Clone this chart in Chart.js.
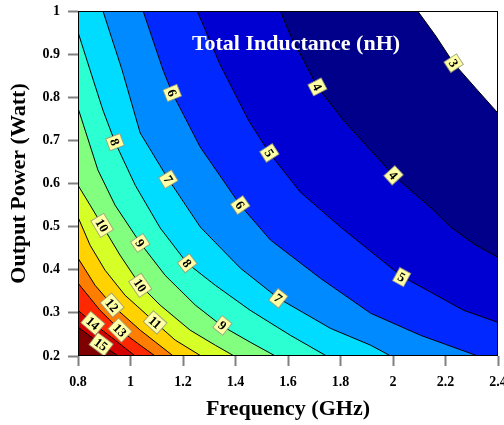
<!DOCTYPE html>
<html>
<head>
<meta charset="utf-8">
<script src="https://cdn.jsdelivr.net/npm/chart.js@4/dist/chart.umd.min.js"></script>
<style>
  body { margin: 0; background: #fff; }
  canvas { display: block; }
</style>
</head>
<body>
<canvas id="chart" width="504" height="425"></canvas>
<script>
// Total inductance (nH) vs frequency and output power, filled contours

const levels = [3, 4, 5, 6, 7, 8, 9, 10, 11, 12, 13, 14, 15];
// colour of the band that sits above each level
const bandColors = ['#00008a', '#0000d2', '#0028ff', '#008aff', '#00dcff', '#2cffd2', '#82ff7e',
                    '#d6ff28', '#ffd200', '#ff7e00', '#ff2800', '#d20000', '#7e0000'];

// contour lines: frequency (GHz) and output power (W) along each level
const contourX = [
  [2.094, 2.163, 2.231, 2.315, 2.40],
  [1.571, 1.609, 1.659, 1.712, 1.811, 1.915, 2.002, 2.155, 2.220, 2.315, 2.40],
  [1.254, 1.342, 1.449, 1.529, 1.647, 1.800, 2.033, 2.269, 2.40],
  [1.048, 1.124, 1.159, 1.266, 1.418, 1.533, 1.724, 1.915, 2.105, 2.323],
  [0.895, 0.968, 1.037, 1.144, 1.266, 1.418, 1.563, 1.762, 1.915, 1.991],
  [0.800, 0.846, 0.895, 0.941, 1.018, 1.113, 1.216, 1.323, 1.456, 1.609, 1.747],
  [0.800, 0.876, 0.941, 1.037, 1.132, 1.247, 1.350, 1.456, 1.552],
  [0.800, 0.846, 0.892, 0.960, 1.037, 1.113, 1.227, 1.323, 1.395],
  [0.800, 0.846, 0.903, 0.979, 1.094, 1.170, 1.269],
  [0.800, 0.865, 0.930, 1.037, 1.163],
  [0.800, 0.884, 0.960, 1.037, 1.094],
  [0.800, 0.857, 0.941, 1.018],
  [0.800, 0.888, 0.953]
];
const contourY = [
  [1.000, 0.942, 0.879, 0.821, 0.763],
  [1.000, 0.944, 0.886, 0.824, 0.747, 0.677, 0.619, 0.538, 0.499, 0.457, 0.429],
  [1.000, 0.875, 0.747, 0.671, 0.580, 0.499, 0.385, 0.306, 0.278],
  [1.000, 0.863, 0.810, 0.684, 0.550, 0.469, 0.380, 0.299, 0.248, 0.200],
  [1.000, 0.863, 0.717, 0.610, 0.499, 0.404, 0.334, 0.264, 0.225, 0.200],
  [0.951, 0.863, 0.770, 0.696, 0.596, 0.497, 0.415, 0.364, 0.306, 0.248, 0.200],
  [0.775, 0.631, 0.550, 0.462, 0.387, 0.318, 0.269, 0.232, 0.200],
  [0.596, 0.550, 0.503, 0.434, 0.364, 0.318, 0.260, 0.225, 0.200],
  [0.522, 0.457, 0.399, 0.341, 0.278, 0.237, 0.200],
  [0.427, 0.364, 0.318, 0.260, 0.200],
  [0.369, 0.306, 0.260, 0.225, 0.200],
  [0.306, 0.276, 0.237, 0.200],
  [0.267, 0.227, 0.200]
];

// inline contour labels
const labelLevel = [3, 4, 4, 5, 5, 6, 6, 7, 7, 8, 8, 9, 9, 10, 10, 11, 12, 13, 14, 15];
const labelX = [2.231, 1.712, 2.002, 1.529, 2.033, 1.159, 1.418, 1.144, 1.563, 0.941,
                1.216, 1.037, 1.350, 0.892, 1.037, 1.094, 0.930, 0.960, 0.857, 0.888];
const labelY = [0.879, 0.824, 0.619, 0.671, 0.383, 0.810, 0.550, 0.610, 0.334, 0.696,
                0.415, 0.462, 0.271, 0.503, 0.364, 0.278, 0.318, 0.260, 0.276, 0.227];

const xTicks = [0.8, 1, 1.2, 1.4, 1.6, 1.8, 2, 2.2, 2.4];
const xTickLabels = ['0.8', '1', '1.2', '1.4', '1.6', '1.8', '2', '2.2', '2.4'];
const yTicks = [0.2, 0.3, 0.4, 0.5, 0.6, 0.7, 0.8, 0.9, 1];
const yTickLabels = ['0.2', '0.3', '0.4', '0.5', '0.6', '0.7', '0.8', '0.9', '1'];

const SERIF = '"Liberation Serif", "Times New Roman", serif';

const datasets = levels.map((lv, i) => {
  const pts = contourX[i].map((x, k) => ({ x: x, y: contourY[i][k] }));
  // a line leaving through the top edge also owns everything to its left
  if (contourY[i][0] >= 1) pts.unshift({ x: xTicks[0], y: 1 });
  return {
    label: lv + ' nH',
    data: pts,
    showLine: true,
    fill: 'start',
    backgroundColor: bandColors[i],
    borderColor: '#000',
    borderWidth: 1,
    pointRadius: 0,
    tension: 0,
    order: -lv
  };
});

// angle of a contour (in pixels) near a given point
function contourAngle(i, px, py, xs, ys) {
  let best = Infinity, ang = 0;
  for (let k = 0; k < contourX[i].length - 1; k++) {
    const ax = xs.getPixelForValue(contourX[i][k]), ay = ys.getPixelForValue(contourY[i][k]);
    const bx = xs.getPixelForValue(contourX[i][k + 1]), by = ys.getPixelForValue(contourY[i][k + 1]);
    const dx = bx - ax, dy = by - ay;
    const t = Math.max(0, Math.min(1, ((px - ax) * dx + (py - ay) * dy) / (dx * dx + dy * dy)));
    const d = Math.hypot(ax + t * dx - px, ay + t * dy - py);
    if (d < best) { best = d; ang = Math.atan2(dy, dx); }
  }
  if (ang > Math.PI / 2) ang -= Math.PI;
  if (ang < -Math.PI / 2) ang += Math.PI;
  return ang;
}

const contourLabels = {
  id: 'contourLabels',
  afterDatasetsDraw(chart) {
    const { ctx, scales: { x, y } } = chart;
    ctx.save();
    ctx.font = 'bold 13px ' + SERIF;
    ctx.textAlign = 'center';
    ctx.textBaseline = 'middle';
    labelLevel.forEach((lv, n) => {
      const i = levels.indexOf(lv);
      const px = x.getPixelForValue(labelX[n]);
      const py = y.getPixelForValue(labelY[n]);
      const text = String(lv);
      const w = ctx.measureText(text).width + 6, h = 15;
      ctx.save();
      ctx.translate(px, py);
      ctx.rotate(contourAngle(i, px, py, x, y));
      ctx.fillStyle = '#ffffa6';
      ctx.fillRect(-w / 2, -h / 2, w, h);
      ctx.strokeStyle = 'rgba(150,150,120,0.8)';
      ctx.lineWidth = 1;
      ctx.strokeRect(-w / 2, -h / 2, w, h);
      ctx.fillStyle = '#000';
      ctx.fillText(text, 0, 1);
      ctx.restore();
    });
    ctx.restore();
  }
};

const plotFrame = {
  id: 'plotFrame',
  afterDraw(chart) {
    const { ctx, chartArea: a } = chart;
    ctx.save();
    ctx.font = 'bold 22px ' + SERIF;
    ctx.fillStyle = '#fff';
    ctx.textAlign = 'center';
    ctx.textBaseline = 'alphabetic';
    ctx.fillText('Total Inductance (nH)', a.left + 218, a.top + 39);
    ctx.strokeStyle = '#000';
    ctx.lineWidth = 1;
    ctx.strokeRect(a.left + 0.5, a.top + 0.5, a.right - a.left - 1, a.bottom - a.top - 1);
    ctx.restore();
  }
};

const tickFont = { family: SERIF, size: 14, weight: 'bold' };
const titleFont = { family: SERIF, size: 22, weight: 'bold' };

new Chart(document.getElementById('chart'), {
  type: 'scatter',
  data: { datasets: datasets },
  options: {
    responsive: false,
    animation: false,
    layout: { padding: { top: 11, right: 6, left: 0, bottom: 0 } },
    plugins: { legend: { display: false }, tooltip: { enabled: false } },
    scales: {
      x: {
        type: 'linear',
        min: 0.8,
        max: 2.4,
        afterBuildTicks: s => { s.ticks = xTicks.map(v => ({ value: v })); },
        // fixed axis box; the end labels may hang past the plot edges
        afterFit: s => { s.height = 69; s.paddingLeft = 0; s.paddingRight = 0; },
        ticks: { font: tickFont, color: '#000', padding: 8, maxRotation: 0, callback: (v, i) => xTickLabels[i] },
        grid: { drawOnChartArea: false, tickLength: 10, tickColor: '#808080', tickWidth: 2 },
        border: { display: false },
        title: { display: true, text: 'Frequency (GHz)', font: titleFont, color: '#000', padding: { top: 0, bottom: 2 } }
      },
      y: {
        type: 'linear',
        min: 0.2,
        max: 1,
        afterBuildTicks: s => { s.ticks = yTicks.map(v => ({ value: v })); },
        afterFit: s => { s.width = 78; s.paddingTop = 0; s.paddingBottom = 0; },
        ticks: { font: tickFont, color: '#000', padding: 8, callback: (v, i) => yTickLabels[i] },
        grid: { drawOnChartArea: false, tickLength: 10, tickColor: '#808080', tickWidth: 2 },
        border: { display: false },
        title: { display: true, text: 'Output Power (Watt)', font: titleFont, color: '#000', padding: { top: 6, bottom: 0 } }
      }
    }
  },
  plugins: [contourLabels, plotFrame]
});
</script>
</body>
</html>
